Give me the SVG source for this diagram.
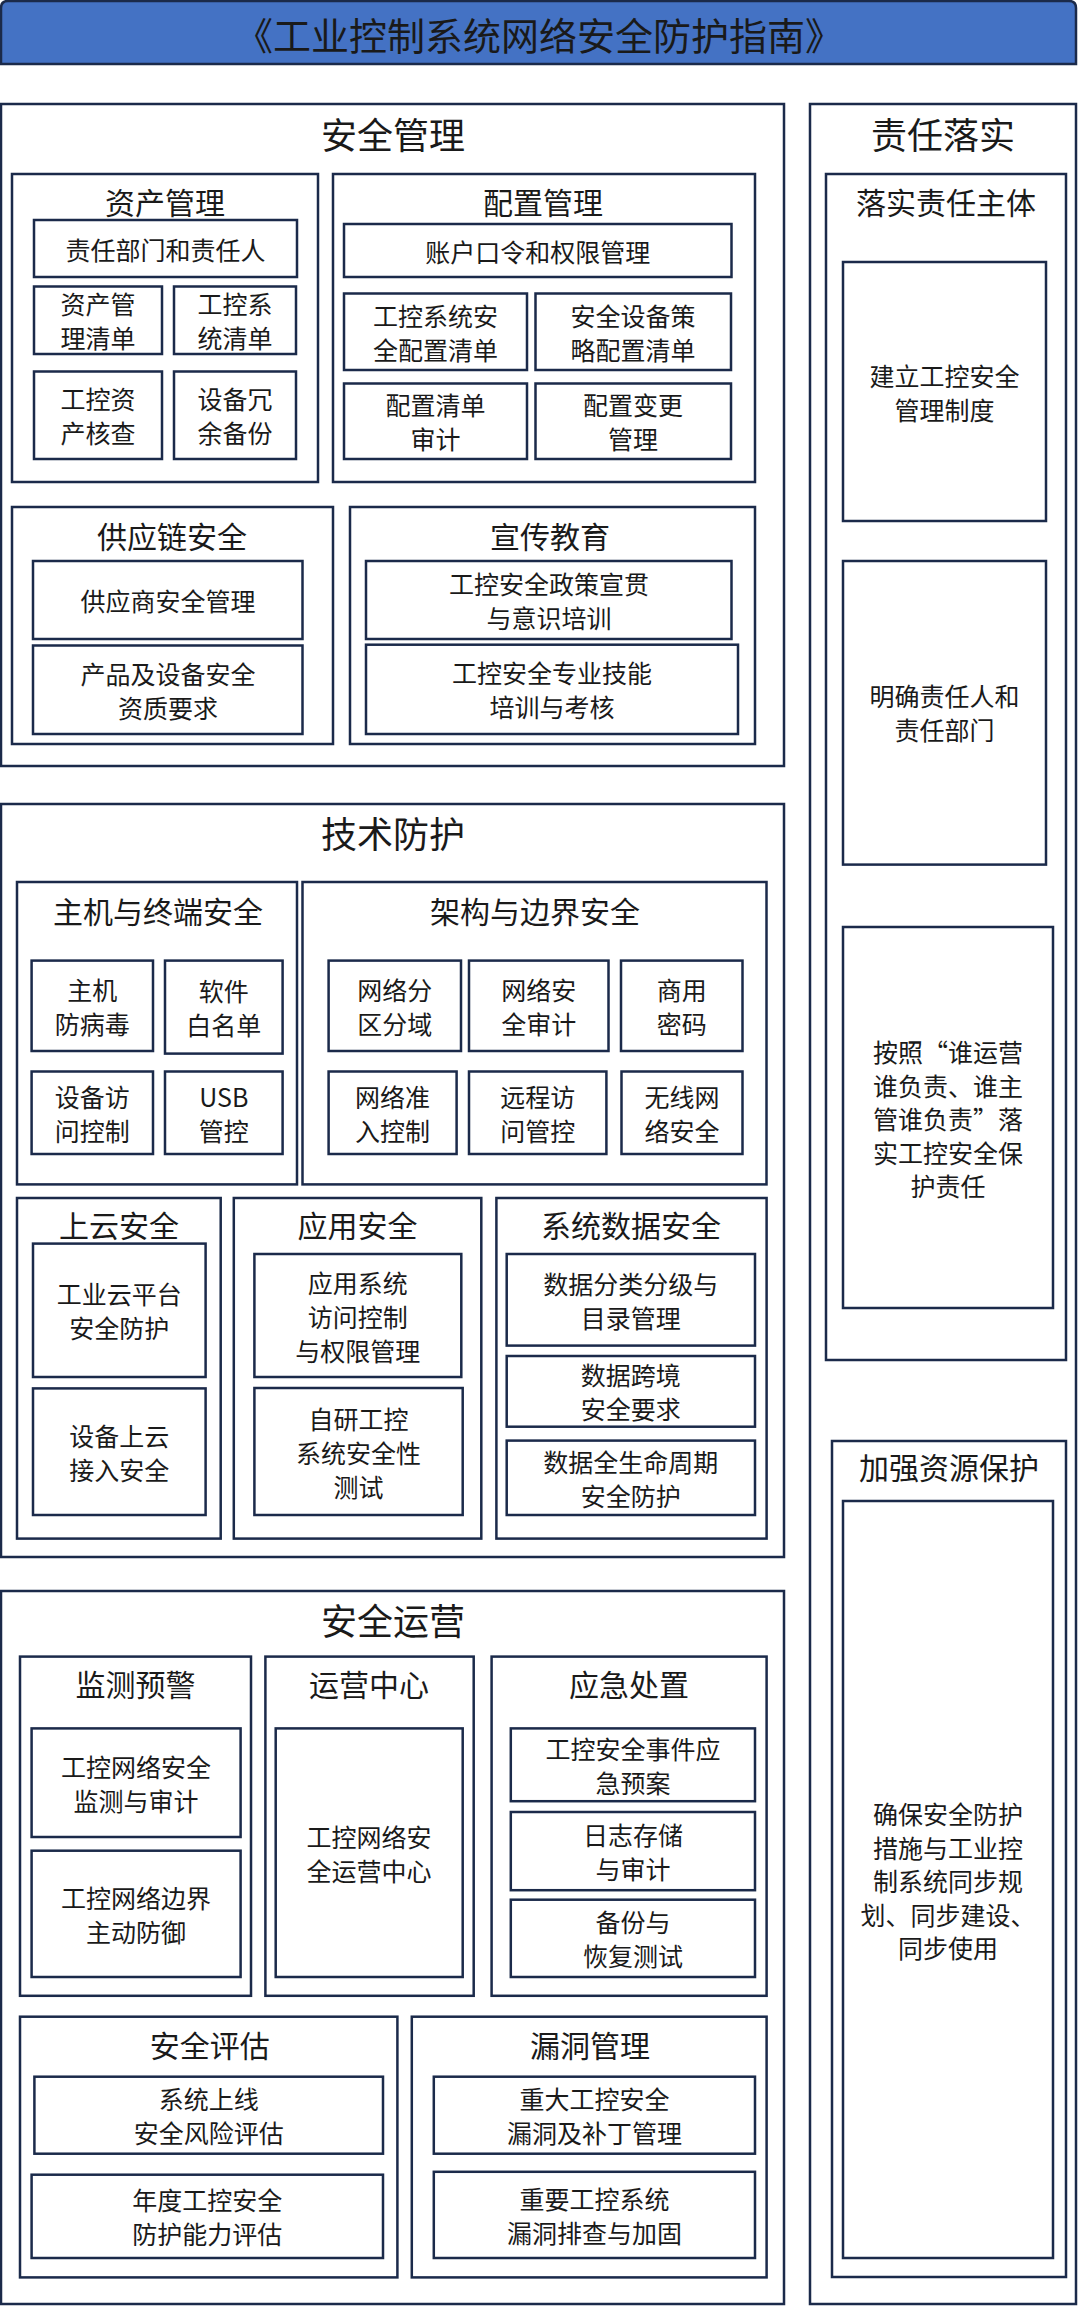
<svg xmlns="http://www.w3.org/2000/svg" width="1078" height="2306" viewBox="0 0 1078 2306">
<style>
rect{fill:#fff;stroke:#1B2A4A;stroke-width:2.5}
text{font-family:"Noto Sans CJK SC","Noto Sans",sans-serif;fill:#1a1a1a;text-anchor:middle;dominant-baseline:central}
.m{font-size:36px}.s{font-size:30px}.t{font-size:25px}
</style>
<rect width="1078" height="2306" style="fill:#fff;stroke:none"/>
<g id="title"><path d="M1,64 V8 Q1,1 8,1 H1069 Q1076,1 1076,8 V64 Z" fill="#4472C4" stroke="#1B2A4A" stroke-width="2.5"/><text x="539" y="33" style="font-size:38px">《工业控制系统网络安全防护指南》</text></g>
<g id="connectors"></g>
<g id="aqgl"><rect x="1" y="104" width="783" height="662"/><text class="m" x="393" y="133">安全管理</text></g>
<g id="zrls"><rect x="810" y="104" width="266" height="2200"/><text class="m" x="943" y="133">责任落实</text></g>
<g id="jsfh"><rect x="1" y="804" width="783" height="753"/><text class="m" x="393" y="832">技术防护</text></g>
<g id="aqyy"><rect x="1" y="1591" width="783" height="713"/><text class="m" x="393" y="1619">安全运营</text></g>

<g id="zcgl"><rect x="12" y="174" width="306" height="308"/><text class="s" x="165" y="201">资产管理</text></g>
<g id="pzgl"><rect x="333" y="174" width="422" height="308"/><text class="s" x="543" y="201">配置管理</text></g>
<g id="gyl"><rect x="12" y="507" width="321" height="237"/><text class="s" x="172" y="535">供应链安全</text></g>
<g id="xcjy"><rect x="350" y="507" width="405" height="237"/><text class="s" x="550" y="535">宣传教育</text></g>
<g id="lszt"><rect x="826" y="174" width="240" height="1186"/><text class="s" x="946" y="201">落实责任主体</text></g>
<g id="jqzy"><rect x="832" y="1441" width="234" height="836"/><text class="s" x="949" y="1466">加强资源保护</text></g>

<g id="n1"><rect x="34" y="220" width="263" height="57"/><text class="t" x="165.5" y="248.5">责任部门和责任人</text></g>
<g id="n2"><rect x="34" y="286.5" width="128" height="67.5"/><text class="t" x="98"><tspan x="98" y="303">资产管</tspan><tspan x="98" y="337">理清单</tspan></text></g>
<g id="n3"><rect x="174" y="286.5" width="122" height="67.5"/><text class="t" x="235"><tspan x="235" y="303">工控系</tspan><tspan x="235" y="337">统清单</tspan></text></g>
<g id="n4"><rect x="34" y="371.5" width="128" height="87.5"/><text class="t"><tspan x="98" y="398">工控资</tspan><tspan x="98" y="432">产核查</tspan></text></g>
<g id="n5"><rect x="174" y="371.5" width="122" height="87.5"/><text class="t"><tspan x="235" y="398">设备冗</tspan><tspan x="235" y="432">余备份</tspan></text></g>
<g id="n6"><rect x="344" y="224" width="387.5" height="53"/><text class="t" x="537.7" y="250.5">账户口令和权限管理</text></g>
<g id="n7"><rect x="344" y="293.5" width="183" height="76.5"/><text class="t"><tspan x="435.5" y="315">工控系统安</tspan><tspan x="435.5" y="349">全配置清单</tspan></text></g>
<g id="n8"><rect x="535.5" y="293.5" width="195.5" height="76.5"/><text class="t"><tspan x="633" y="315">安全设备策</tspan><tspan x="633" y="349">略配置清单</tspan></text></g>
<g id="n9"><rect x="344" y="383.5" width="183" height="75.5"/><text class="t"><tspan x="435.5" y="404">配置清单</tspan><tspan x="435.5" y="438">审计</tspan></text></g>
<g id="n10"><rect x="535.5" y="383.5" width="195.5" height="75.5"/><text class="t"><tspan x="633" y="404">配置变更</tspan><tspan x="633" y="438">管理</tspan></text></g>
<g id="n11"><rect x="33" y="561" width="269.5" height="78"/><text class="t" x="168" y="600">供应商安全管理</text></g>
<g id="n12"><rect x="33" y="645.5" width="269.5" height="88.5"/><text class="t"><tspan x="168" y="673">产品及设备安全</tspan><tspan x="168" y="707">资质要求</tspan></text></g>
<g id="n13"><rect x="366" y="561" width="365.5" height="78"/><text class="t"><tspan x="549" y="583">工控安全政策宣贯</tspan><tspan x="549" y="617">与意识培训</tspan></text></g>
<g id="n14"><rect x="366" y="644.7" width="372" height="89.3"/><text class="t"><tspan x="552" y="672">工控安全专业技能</tspan><tspan x="552" y="706">培训与考核</tspan></text></g>
<g id="n15"><rect x="843" y="262" width="203" height="259"/><text class="t"><tspan x="944.5" y="375">建立工控安全</tspan><tspan x="944.5" y="409">管理制度</tspan></text></g>
<g id="n16"><rect x="843" y="561" width="203" height="303.6"/><text class="t"><tspan x="944.5" y="695">明确责任人和</tspan><tspan x="944.5" y="729">责任部门</tspan></text></g>
<g id="n17"><rect x="843" y="927" width="210" height="381"/><text class="t"><tspan x="948" y="1051">按照“谁运营</tspan><tspan x="948" y="1084.5">谁负责、谁主</tspan><tspan x="948" y="1118">管谁负责”落</tspan><tspan x="948" y="1151.5">实工控安全保</tspan><tspan x="948" y="1185">护责任</tspan></text></g>
<g id="n18"><rect x="843" y="1501" width="210" height="757"/><text class="t"><tspan x="948" y="1813">确保安全防护</tspan><tspan x="948" y="1846.5">措施与工业控</tspan><tspan x="948" y="1880">制系统同步规</tspan><tspan x="948" y="1913.5">划、同步建设、</tspan><tspan x="948" y="1947">同步使用</tspan></text></g>

<g id="zjzd"><rect x="17" y="882" width="280" height="302.4"/><text class="s" x="158" y="910">主机与终端安全</text></g>
<g id="jgbj"><rect x="302.5" y="882" width="464" height="302.4"/><text class="s" x="535" y="910">架构与边界安全</text></g>
<g id="syaq"><rect x="17" y="1198" width="203.7" height="340.6"/><text class="s" x="119" y="1224">上云安全</text></g>
<g id="yyaq"><rect x="233.8" y="1198" width="247.5" height="340.6"/><text class="s" x="357.5" y="1224">应用安全</text></g>
<g id="xtsj"><rect x="496.4" y="1198" width="270.2" height="340.6"/><text class="s" x="631" y="1224">系统数据安全</text></g>
<g id="t1"><rect x="31.6" y="960.6" width="121.4" height="90.4"/><text class="t"><tspan x="92.3" y="989">主机</tspan><tspan x="92.3" y="1023">防病毒</tspan></text></g>
<g id="t2"><rect x="165" y="960.6" width="117.6" height="93"/><text class="t"><tspan x="223.8" y="990">软件</tspan><tspan x="223.8" y="1024">白名单</tspan></text></g>
<g id="t3"><rect x="31.6" y="1071.5" width="121.4" height="82.5"/><text class="t"><tspan x="92.3" y="1096">设备访</tspan><tspan x="92.3" y="1130">问控制</tspan></text></g>
<g id="t4"><rect x="165" y="1071.5" width="117.6" height="82.5"/><text class="t"><tspan x="223.8" y="1096">USB</tspan><tspan x="223.8" y="1130">管控</tspan></text></g>
<g id="t5"><rect x="328.6" y="960.6" width="132.4" height="90.4"/><text class="t"><tspan x="394.8" y="989">网络分</tspan><tspan x="394.8" y="1023">区分域</tspan></text></g>
<g id="t6"><rect x="469" y="960.6" width="139.5" height="90.4"/><text class="t"><tspan x="538.7" y="989">网络安</tspan><tspan x="538.7" y="1023">全审计</tspan></text></g>
<g id="t7"><rect x="621" y="960.6" width="121.5" height="90.4"/><text class="t"><tspan x="681.7" y="989">商用</tspan><tspan x="681.7" y="1023">密码</tspan></text></g>
<g id="t8"><rect x="328.6" y="1071.5" width="128" height="82.5"/><text class="t"><tspan x="392.6" y="1096">网络准</tspan><tspan x="392.6" y="1130">入控制</tspan></text></g>
<g id="t9"><rect x="469" y="1071.5" width="137.4" height="82.5"/><text class="t"><tspan x="537.7" y="1096">远程访</tspan><tspan x="537.7" y="1130">问管控</tspan></text></g>
<g id="t10"><rect x="621.5" y="1071.5" width="121" height="82.5"/><text class="t"><tspan x="682" y="1096">无线网</tspan><tspan x="682" y="1130">络安全</tspan></text></g>
<g id="t11"><rect x="33" y="1243.6" width="172.6" height="133.4"/><text class="t"><tspan x="119.3" y="1293">工业云平台</tspan><tspan x="119.3" y="1327">安全防护</tspan></text></g>
<g id="t12"><rect x="33" y="1388.4" width="172.6" height="126.6"/><text class="t"><tspan x="119.3" y="1435">设备上云</tspan><tspan x="119.3" y="1469">接入安全</tspan></text></g>
<g id="t13"><rect x="254.4" y="1254" width="206.9" height="123"/><text class="t"><tspan x="357.8" y="1281.5">应用系统</tspan><tspan x="357.8" y="1315.5">访问控制</tspan><tspan x="357.8" y="1349.5">与权限管理</tspan></text></g>
<g id="t14"><rect x="254.4" y="1388" width="208.3" height="127"/><text class="t"><tspan x="358.5" y="1417.5">自研工控</tspan><tspan x="358.5" y="1451.5">系统安全性</tspan><tspan x="358.5" y="1485.5">测试</tspan></text></g>
<g id="t15"><rect x="506.7" y="1254" width="248.3" height="91.6"/><text class="t"><tspan x="630.8" y="1283">数据分类分级与</tspan><tspan x="630.8" y="1317">目录管理</tspan></text></g>
<g id="t16"><rect x="506.7" y="1356" width="248.3" height="70.7"/><text class="t"><tspan x="630.8" y="1374">数据跨境</tspan><tspan x="630.8" y="1408">安全要求</tspan></text></g>
<g id="t17"><rect x="506.7" y="1440.6" width="248.3" height="74.4"/><text class="t"><tspan x="630.8" y="1461">数据全生命周期</tspan><tspan x="630.8" y="1495">安全防护</tspan></text></g>

<g id="jcyj"><rect x="20" y="1656.6" width="231" height="339.2"/><text class="s" x="135.4" y="1683">监测预警</text></g>
<g id="yyzx"><rect x="265.4" y="1656.6" width="208.3" height="339.2"/><text class="s" x="369" y="1683">运营中心</text></g>
<g id="yjcz"><rect x="491.6" y="1656.6" width="275" height="339.2"/><text class="s" x="629" y="1683">应急处置</text></g>
<g id="aqpg"><rect x="20" y="2016.7" width="377.4" height="260.7"/><text class="s" x="209.7" y="2044">安全评估</text></g>
<g id="ldgl"><rect x="411.8" y="2016.7" width="354.8" height="260.7"/><text class="s" x="590" y="2044">漏洞管理</text></g>
<g id="o1"><rect x="31.6" y="1728.4" width="209" height="108.6"/><text class="t"><tspan x="136" y="1765.7">工控网络安全</tspan><tspan x="136" y="1799.7">监测与审计</tspan></text></g>
<g id="o2"><rect x="31.6" y="1850.7" width="209" height="126.3"/><text class="t"><tspan x="136" y="1897">工控网络边界</tspan><tspan x="136" y="1931">主动防御</tspan></text></g>
<g id="o3"><rect x="275.7" y="1728.4" width="187" height="248.6"/><text class="t"><tspan x="369" y="1835.7">工控网络安</tspan><tspan x="369" y="1869.7">全运营中心</tspan></text></g>
<g id="o4"><rect x="510.8" y="1728.4" width="244.2" height="72.8"/><text class="t"><tspan x="632.9" y="1747.8">工控安全事件应</tspan><tspan x="632.9" y="1781.8">急预案</tspan></text></g>
<g id="o5"><rect x="510.8" y="1812" width="244.2" height="78.2"/><text class="t"><tspan x="632.9" y="1834">日志存储</tspan><tspan x="632.9" y="1868">与审计</tspan></text></g>
<g id="o6"><rect x="510.8" y="1899.7" width="244.2" height="77.3"/><text class="t"><tspan x="632.9" y="1921.3">备份与</tspan><tspan x="632.9" y="1955.3">恢复测试</tspan></text></g>
<g id="o7"><rect x="34.4" y="2076.7" width="348.6" height="77"/><text class="t"><tspan x="208.7" y="2098.2">系统上线</tspan><tspan x="208.7" y="2132.2">安全风险评估</tspan></text></g>
<g id="o8"><rect x="31.6" y="2174.7" width="351.4" height="83.3"/><text class="t"><tspan x="207.3" y="2199.3">年度工控安全</tspan><tspan x="207.3" y="2233.3">防护能力评估</tspan></text></g>
<g id="o9"><rect x="433.8" y="2076.7" width="321.2" height="77"/><text class="t"><tspan x="594.4" y="2098.2">重大工控安全</tspan><tspan x="594.4" y="2132.2">漏洞及补丁管理</tspan></text></g>
<g id="o10"><rect x="433.8" y="2171.8" width="321.2" height="86.2"/><text class="t"><tspan x="594.4" y="2198">重要工控系统</tspan><tspan x="594.4" y="2232">漏洞排查与加固</tspan></text></g>
</svg>
